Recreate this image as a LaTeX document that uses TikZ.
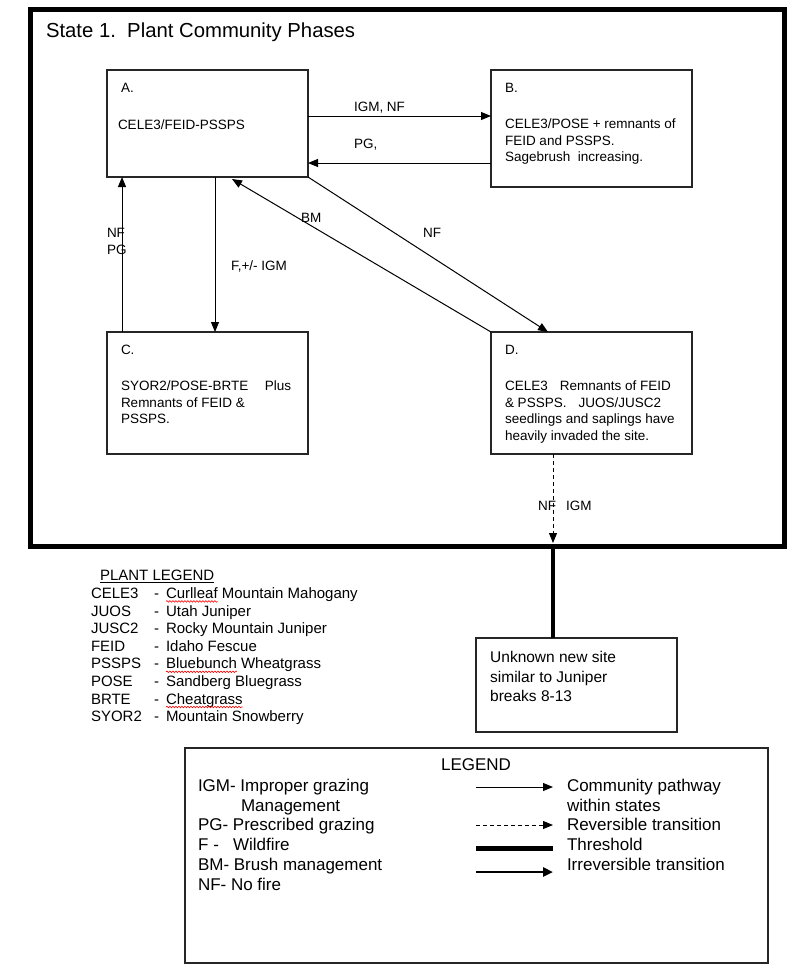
\documentclass[tikz,border=0pt]{standalone}
\usepackage{fontspec}
\setmainfont{Liberation Sans}
\usetikzlibrary{arrows.meta,decorations.pathmorphing}
\begin{document}
\begin{tikzpicture}[x=1pt,y=-1pt,
  box/.style={draw=black!85, line width=1.2pt, inner sep=0pt, outer sep=0pt, anchor=north west},
  txt/.style={inner sep=0pt, outer sep=0pt, anchor=west, font=\fontsize{13.5}{16.5}\selectfont},
  mtxt/.style={txt, anchor=north west, align=left},
  ptxt/.style={inner sep=0pt, outer sep=0pt, anchor=base west, font=\fontsize{15}{17.6}\selectfont},
  bigtxt/.style={inner sep=0pt, outer sep=0pt, anchor=north west, align=left, font=\fontsize{17}{19.8}\selectfont},
  arr/.style={-{Triangle[length=10pt,width=8pt]}, line width=1pt},
  dasharr/.style={arr, dash pattern=on 4pt off 3pt},
  thresh/.style={line width=3.5pt},
  irrev/.style={-{Triangle[length=10pt,width=9pt]}, line width=2.5pt},
  squig/.style={draw=red, line width=0.6pt, decorate, decoration={snake, amplitude=0.8pt, segment length=3pt}}]
\useasboundingbox (0,0) rectangle (800,970);
\fill[white] (0,0) rectangle (800,970);

% state frame
\node[draw=black, line width=5pt, inner sep=0pt, outer sep=0pt, anchor=north west,
      minimum width=754pt, minimum height=537pt] (state) at (30,9) {};
\node[txt, font=\fontsize{20.3}{24}\selectfont] (title) at (46,32) {State 1.\ \ Plant Community Phases};

% boxes
\node[box, minimum width=201pt, minimum height=107pt] (A) at (107,70) {};
\node[box, minimum width=201pt, minimum height=117pt] (B) at (491,70) {};
\node[box, minimum width=201pt, minimum height=122pt] (C) at (107,332) {};
\node[box, minimum width=201pt, minimum height=122pt] (D) at (491,332) {};
\node[box, minimum width=201pt, minimum height=94pt] (U) at (476,638) {};

% box texts
\node[txt] (Ah) at (121,88) {A.};
\node[txt] (At) at (118,125) {CELE3/FEID-PSSPS};
\node[txt] (Bh) at (505,88) {B.};
\node[mtxt] (Bt) at (505,119.2) {CELE3/POSE + remnants of\\FEID and PSSPS.\\Sagebrush\ \ increasing.};
\node[txt] (Ch) at (121,350) {C.};
\node[mtxt] (Ct) at (121,381.2) {SYOR2/POSE-BRTE\hspace{16.5pt}Plus\\Remnants of FEID \&\\PSSPS.};
\node[txt] (Dh) at (505,350) {D.};
\node[mtxt] (Dt) at (505,381.2) {CELE3\hspace{12pt}Remnants of FEID\\\& PSSPS.\hspace{12pt}JUOS/JUSC2\\seedlings and saplings have\\heavily invaded the site.};
\node[inner sep=0pt, anchor=north west, align=left, font=\fontsize{15.5}{19.5}\selectfont] (Ut) at (490,651.5)
  {Unknown new site\\similar to Juniper\\breaks 8-13};

% connector helper coordinates
\coordinate (yab) at (0,116);
\coordinate (yba) at (0,163);
\coordinate (xca) at (122,0);
\coordinate (xac) at (215,0);
\coordinate (xda) at (232,0);
\coordinate (xad) at (548,0);
\coordinate (xdu) at (553,0);

% connectors
\draw[arr] (A.east |- yab) -- (B.west |- yab);
\draw[arr] (B.west |- yba) -- (A.east |- yba);
\draw[arr] (C.north -| xca) -- (A.south -| xca);
\draw[arr] (A.south -| xac) -- (C.north -| xac);
\draw[arr] (D.north west) -- ([yshift=-2pt]A.south -| xda);
\draw[arr] (A.south east) -- (D.north -| xad);
\coordinate (dend) at (553,543);
\draw[dasharr] (D.south -| xdu) -- (dend);
\draw[thresh] (state.south -| xdu) -- (U.north -| xdu);

% edge labels
\node[txt] (l1) at (354,108) {IGM, NF};
\node[txt] (l2) at (354,145) {PG,};
\node[txt] (l3) at (107,233) {NF};
\node[txt] (l4) at (107,250) {PG};
\node[txt] (l5) at (231,266) {F,+/- IGM};
\node[txt] (l6) at (301,218) {BM};
\node[txt] (l7) at (423,233) {NF};
\node[txt] (l8) at (538,506) {NF};
\node[txt] (l9) at (566,506) {IGM};

% plant legend
\node[ptxt] (plh) at (100,580.4) {PLANT LEGEND};
\draw[line width=0.8pt] ([yshift=-2pt]plh.base west) -- ([yshift=-2pt]plh.base east);

\node[ptxt] (c1) at (91,598.4) {CELE3};  \node[ptxt] (h1) at (154,598.4) {-};
\node[ptxt] (w1) at (166,598.4) {Curlleaf}; \node[ptxt] (r1) at (w1.base east) {\ Mountain Mahogany};
\node[ptxt] (c2) at (91,616.0) {JUOS};   \node[ptxt] (h2) at (154,616.0) {-};
\node[ptxt] (r2) at (166,616.0) {Utah Juniper};
\node[ptxt] (c3) at (91,633.6) {JUSC2};  \node[ptxt] (h3) at (154,633.6) {-};
\node[ptxt] (r3) at (166,633.6) {Rocky Mountain Juniper};
\node[ptxt] (c4) at (91,651.2) {FEID};   \node[ptxt] (h4) at (154,651.2) {-};
\node[ptxt] (r4) at (166,651.2) {Idaho Fescue};
\node[ptxt] (c5) at (91,668.8) {PSSPS};  \node[ptxt] (h5) at (154,668.8) {-};
\node[ptxt] (w5) at (166,668.8) {Bluebunch}; \node[ptxt] (r5) at (w5.base east) {\ Wheatgrass};
\node[ptxt] (c6) at (91,686.4) {POSE};   \node[ptxt] (h6) at (154,686.4) {-};
\node[ptxt] (r6) at (166,686.4) {Sandberg Bluegrass};
\node[ptxt] (c7) at (91,704.0) {BRTE};   \node[ptxt] (h7) at (154,704.0) {-};
\node[ptxt] (w7) at (166,704.0) {Cheatgrass};
\node[ptxt] (c8) at (91,721.6) {SYOR2};  \node[ptxt] (h8) at (154,721.6) {-};
\node[ptxt] (r8) at (166,721.6) {Mountain Snowberry};
\foreach \w in {w1,w5,w7}
  \path[squig] ([yshift=-3pt]\w.base west) -- ([yshift=-3pt]\w.base east);

% legend box
\node[box, minimum width=583pt, minimum height=215pt] (L) at (185,748) {};
\node[inner sep=0pt, font=\fontsize{17}{20}\selectfont] (Lh) at (476,765) {LEGEND};
\node[bigtxt] (Ll) at (198,778.9)
 {IGM- Improper grazing\\\hspace{43pt}Management\\PG- Prescribed grazing\\F\hspace{5pt}-\hspace{14pt}Wildfire\\BM- Brush management\\NF- No fire};
\node[bigtxt] (Lr) at (567,778.9)
 {Community pathway\\within states\\Reversible transition\\Threshold\\Irreversible transition};
\coordinate (s1a) at (476,787); \coordinate (s1b) at (553,787);
\coordinate (s2a) at (476,825); \coordinate (s2b) at (553,825);
\coordinate (s3a) at (476,848); \coordinate (s3b) at (553,848);
\coordinate (s4a) at (476,872); \coordinate (s4b) at (553,872);
\draw[arr] (s1a) -- (s1b);
\draw[dasharr] (s2a) -- (s2b);
\draw[line width=5pt] (s3a) -- (s3b);
\draw[irrev] (s4a) -- (s4b);
\end{tikzpicture}
\end{document}
